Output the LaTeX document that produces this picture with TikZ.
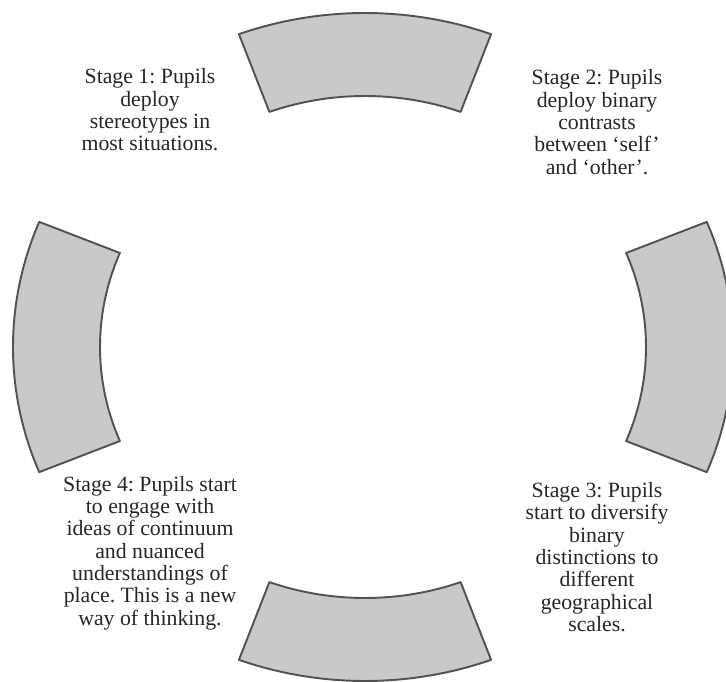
\documentclass[tikz,border=0pt]{standalone}
\usepackage{fontspec}
\setmainfont{Liberation Serif}
\usepackage{xcolor}
\usepackage{tikz}
\frenchspacing

\begin{document}
\begin{tikzpicture}[x=0.02cm,y=0.02cm,
  band/.style={fill=black!21,draw=black!68,line width=1.1pt,line join=round},
  stagetext/.style={align=center,text=black!85,inner sep=0pt,font=\fontsize{12.4}{12.7}\selectfont}]
  \useasboundingbox (0,0) rectangle (726,681);
  \foreach \cx/\a/\w in {365/90/20.5,373/0/22,365/270/20.5,373/180/22}{
    \draw[band,shift={(\cx,334)}] (\a-\w:360 and 334) arc[start angle=\a-\w,end angle=\a+\w,x radius=360,y radius=334]
      -- (\a+\w:273 and 251) arc[start angle=\a+\w,end angle=\a-\w,x radius=273,y radius=251] -- cycle;
  }
  \node[stagetext] (s1) at (150,571) {Stage 1: Pupils\\deploy\\stereotypes in\\most situations.};
  \node[stagetext] (s2) at (597,559) {Stage 2: Pupils\\deploy binary\\contrasts\\between `self'\\and `other'.};
  \node[stagetext] (s3) at (597,124) {Stage 3: Pupils\\start to diversify\\binary\\distinctions to\\different\\geographical\\scales.};
  \node[stagetext] (s4) at (150,128) {Stage 4: Pupils start\\to engage with\\ideas of continuum\\and nuanced\\understandings of\\place. This is a new\\way of thinking.};
\end{tikzpicture}
\end{document}
